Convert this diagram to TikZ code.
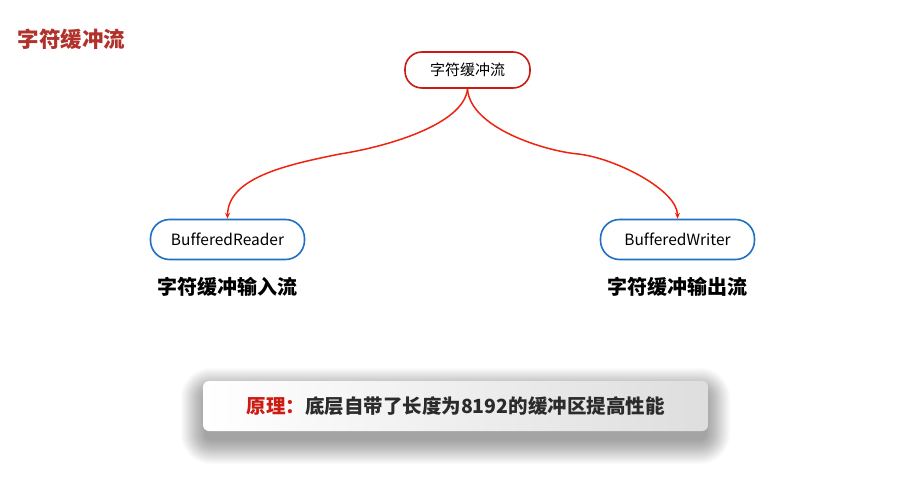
\documentclass[tikz,border=0pt]{standalone}
\usepackage{fontspec}
\setmainfont{Noto Sans CJK SC}[Ligatures=NoCommon]
\newfontfamily\heavyfont{Noto Sans CJK SC Black}
\usetikzlibrary{arrows.meta}
\definecolor{titlered}{HTML}{B0322A}
\definecolor{linered}{HTML}{EE2410}
\definecolor{boxred}{HTML}{CC1B12}
\definecolor{boxblue}{HTML}{1F6FC2}
\definecolor{darktext}{HTML}{2B2B2B}
\tikzset{
  rootbox/.style={draw=boxred, line width=1.6pt, rounded corners=17pt, minimum width=125pt, minimum height=36pt, fill=white, font=\fontsize{15}{17}\selectfont},
  classbox/.style={draw=boxblue, line width=1.6pt, rounded corners=19pt, minimum width=154pt, minimum height=40pt, fill=white, font=\fontsize{15.5}{17}\selectfont},
  cnlabel/.style={font=\fontsize{20}{22}\heavyfont, text=black},
  conn/.style={draw=linered, line width=1.5pt, -{Stealth[length=6pt,width=5pt]}},
}
\begin{document}
\begin{tikzpicture}[x=1pt,y=-1pt]
\useasboundingbox[fill=white] (0,0) rectangle (901,481);
\node[anchor=west, text=titlered, font=\fontsize{21.5}{23}\selectfont\bfseries] (title) at (14,39) {字符缓冲流};
\node[rootbox] (root) at (467.5,70) {字符缓冲流};
\node[classbox] (reader) at (227.5,239.5) {BufferedReader};
\node[classbox] (writer) at (677.5,239.5) {BufferedWriter};
\node[cnlabel] (rlab) at (227.5,287) {字符缓冲输入流};
\node[cnlabel] (wlab) at (677.5,287) {字符缓冲输出流};
\coordinate (lmid) at (340,154);
\coordinate (rmid) at (578,154);
\draw[conn] (root.south) .. controls (464,125) and (385,147) .. (lmid) .. controls (285,165) and (228,178) .. (reader.north);
\draw[conn] (root.south) .. controls (470,128) and (545,151) .. (rmid) .. controls (615,158) and (677.5,190) .. (writer.north);
% soft shadow
\foreach \i in {0,1,...,24}{
  \fill[black, opacity=0.016, rounded corners={6+\i}] (205-\i,392-\i) rectangle (706+\i,440+\i);
}
\node[rounded corners=6pt, minimum width=505pt, minimum height=50pt, left color=white, right color=black!13,
  font=\fontsize{19.5}{22}\selectfont\bfseries, text=darktext] (note) at (455.5,406) {\textcolor{boxred}{原理：}底层自带了长度为8192的缓冲区提高性能};
\end{tikzpicture}
\end{document}
